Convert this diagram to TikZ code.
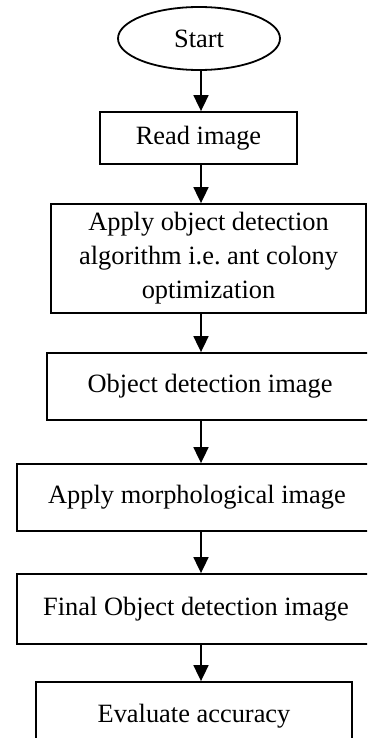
\documentclass[tikz,border=0pt]{standalone}
\usepackage{fontspec}
\setmainfont{Liberation Serif}
\usetikzlibrary{shapes.geometric,arrows.meta}
\frenchspacing

\begin{document}
\begin{tikzpicture}[x=1pt,y=-1pt,
    stepbox/.style={draw, line width=1.8pt, inner sep=0pt, align=center,
        font=\fontsize{26.4}{34}\selectfont},
    startnode/.style={ellipse, draw, line width=1.8pt, inner sep=0pt,
        minimum width=162pt, minimum height=63pt,
        font=\fontsize{26.4}{34}\selectfont},
    flowarrow/.style={line width=1.8pt, -{Triangle[width=15pt,length=16pt]}}]
            \clip (0,0) rectangle (367,738);

            \node[startnode] (start) at (199,38.5) {Start};
            \node[stepbox, minimum width=197pt, minimum height=52pt] (read) at (198.5,138) {Read image};
            \node[stepbox, minimum width=315pt, minimum height=109pt] (apply) at (208.5,258.5)
                {Apply object detection\\algorithm i.e. ant colony\\optimization};
            \node[stepbox, minimum width=326pt, minimum height=67pt] (objdet) at (210,386.5) {Object detection image};
            \node[stepbox, minimum width=360pt, minimum height=67pt] (morph) at (197,497.5) {Apply morphological image};
            \node[stepbox, minimum width=358pt, minimum height=70pt] (final) at (196,609) {Final Object detection image};
            \node[stepbox, minimum width=316pt, minimum height=68pt] (evaluate) at (194,716) {Evaluate accuracy};

            % arrows all sit on one vertical line
            \coordinate (axis) at (201,0);
            \draw[flowarrow] (axis |- start.south) -- (axis |- read.north);
            \draw[flowarrow] (axis |- read.south) -- (axis |- apply.north);
            \draw[flowarrow] (axis |- apply.south) -- (axis |- objdet.north);
            \draw[flowarrow] (axis |- objdet.south) -- (axis |- morph.north);
            \draw[flowarrow] (axis |- morph.south) -- (axis |- final.north);
            \draw[flowarrow] (axis |- final.south) -- (axis |- evaluate.north);
        \end{tikzpicture}
\end{document}
